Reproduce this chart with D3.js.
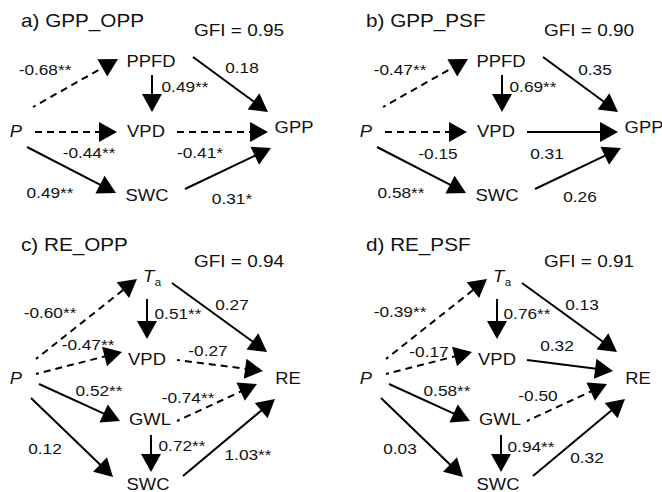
<!DOCTYPE html>
<html>
<head>
<meta charset="utf-8">
<script src="https://cdn.jsdelivr.net/npm/d3@7"></script>
<style>
  body { margin: 0; background: #fff; }
  text { font-family: Arial, "Liberation Sans", sans-serif; fill: #111; }
</style>
</head>
<body>
<svg id="chart" width="662" height="492"></svg>
<script>
// ---- data ----
var panelTitles = ["a) GPP_OPP", "b) GPP_PSF", "c) RE_OPP", "d) RE_PSF"];
var gfiValues = [0.95, 0.90, 0.94, 0.91];

// GPP models: paths and standardized coefficients
var gppPaths = [["P", "PPFD"], ["PPFD", "VPD"], ["PPFD", "GPP"], ["P", "VPD"], ["VPD", "GPP"], ["P", "SWC"], ["SWC", "GPP"]];
var gppOppCoef = [-0.68, 0.49, 0.18, -0.44, -0.41, 0.49, 0.31];
var gppOppSig  = ["**", "**", "", "**", "*", "**", "*"];
var gppPsfCoef = [-0.47, 0.69, 0.35, -0.15, 0.31, 0.58, 0.26];
var gppPsfSig  = ["**", "**", "", "", "", "**", ""];

// RE models
var rePaths = [["P", "Ta"], ["Ta", "VPD"], ["Ta", "RE"], ["P", "VPD"], ["VPD", "RE"], ["P", "GWL"], ["GWL", "RE"], ["GWL", "SWC"], ["P", "SWC"], ["SWC", "RE"]];
var reOppCoef = [-0.60, 0.51, 0.27, -0.47, -0.27, 0.52, -0.74, 0.72, 0.12, 1.03];
var reOppSig  = ["**", "**", "", "**", "", "**", "**", "**", "", "**"];
var rePsfCoef = [-0.39, 0.76, 0.13, -0.17, 0.32, 0.58, -0.50, 0.94, 0.03, 0.32];
var rePsfSig  = ["**", "**", "", "", "", "**", "", "**", "", ""];

// ---- layout (panel-relative units) ----
var sx = 1.15;   // text is a bit wide in the original
var gppNodes = {P: [16, 131], PPFD: [151, 61], VPD: [146, 131], GPP: [294, 127], SWC: [147, 195]};
var gppEdges = [[33, 107, 118, 59], [152, 75, 152, 112], [193, 57, 268, 112], [35, 132, 117, 132],
                [177, 132, 268, 132], [27, 147, 116, 193], [185, 189, 271, 148]];
var gppLabelPos = [
  [[45, 70], [185, 87], [242, 68], [89, 153], [200, 153], [50, 193], [232, 199]],
  [[50, 70], [183, 87], [245, 70], [88, 154], [197, 154], [51, 193], [230, 197]]
];
var reNodes = {P: [16, 132], Ta: [152, 30], VPD: [147, 113], RE: [288, 132], GWL: [150, 173], SWC: [148, 238]};
var reEdges = [[36, 113, 137, 33], [147, 53, 147, 93], [172, 37, 267, 106], [36, 128, 122, 106],
               [177, 114, 263, 125], [39, 138, 120, 175], [177, 175, 257, 138], [151, 189, 151, 226],
               [31, 152, 113, 231], [183, 230, 275, 153]];
var reLabelPos = [
  [[50, 67], [178, 68], [232, 59], [88, 99], [208, 105], [99, 145], [188, 152], [182, 200], [45, 203], [248, 209]],
  [[50, 66], [177, 68], [232, 59], [79, 106], [207, 100], [97, 145], [188, 150], [181, 201], [50, 203], [237, 212]]
];

var panels = [
  {ox: 0,   oy: 0,   title: [21, 21], gfi: [239, 30], nodes: gppNodes, edges: gppEdges, labels: gppLabelPos[0], coef: gppOppCoef, sig: gppOppSig},
  {ox: 350, oy: 0,   title: [16, 21], gfi: [239, 30], nodes: gppNodes, edges: gppEdges, labels: gppLabelPos[1], coef: gppPsfCoef, sig: gppPsfSig},
  {ox: 0,   oy: 246, title: [21, -1], gfi: [239, 15], nodes: reNodes,  edges: reEdges,  labels: reLabelPos[0],  coef: reOppCoef,  sig: reOppSig},
  {ox: 350, oy: 246, title: [16, -1], gfi: [239, 15], nodes: reNodes,  edges: reEdges,  labels: reLabelPos[1],  coef: rePsfCoef,  sig: rePsfSig}
];

var svg = d3.select("#chart");
var arrowLen = 18, arrowHalf = 10;

function stretched(sel, x, y) {
  return sel.attr("transform", "translate(" + x + "," + y + ") scale(" + sx + ",1)");
}

panels.forEach(function(p, i) {
  var x = d3.scaleLinear().domain([0, 331]).range([p.ox, p.ox + 331]);
  var y = d3.scaleLinear().domain([0, 246]).range([p.oy, p.oy + 246]);
  var g = svg.append("g");

  // edges
  p.edges.forEach(function(e, k) {
    var x1 = x(e[0]), y1 = y(e[1]), x2 = x(e[2]), y2 = y(e[3]);
    var dx = x2 - x1, dy = y2 - y1, len = Math.sqrt(dx * dx + dy * dy);
    var ux = dx / len, uy = dy / len;
    var bx = x2 - ux * arrowLen, by = y2 - uy * arrowLen;
    var neg = p.coef[k] < 0;
    g.append("line")
      .attr("x1", x1).attr("y1", y1)
      .attr("x2", bx + ux * 1).attr("y2", by + uy * 1)
      .attr("stroke", "#000")
      .attr("stroke-width", 2)
      .attr("stroke-dasharray", neg ? "7,5" : null)
      .attr("stroke-dashoffset", neg && e[1] !== e[3] ? 4 : 0);
    var pts = [[x2, y2], [bx - uy * arrowHalf, by + ux * arrowHalf], [bx + uy * arrowHalf, by - ux * arrowHalf]];
    g.append("path")
      .attr("d", d3.line()(pts) + "Z")
      .attr("fill", "#000");
  });

  // title and GFI
  stretched(g.append("text"), x(p.title[0]), y(p.title[1]))
    .attr("dy", "0.35em").attr("font-size", 18).text(panelTitles[i]);
  stretched(g.append("text"), x(p.gfi[0]), y(p.gfi[1]))
    .attr("dy", "0.35em").attr("font-size", 16.5).attr("text-anchor", "middle")
    .text("GFI = " + gfiValues[i].toFixed(2));

  // nodes
  Object.keys(p.nodes).forEach(function(name) {
    var c = p.nodes[name];
    var t = stretched(g.append("text"), x(c[0]), y(c[1]))
      .attr("dy", "0.35em").attr("font-size", 16).attr("text-anchor", "middle");
    if (name === "P") {
      t.attr("font-style", "italic").text("P");
    } else if (name === "Ta") {
      t.append("tspan").attr("font-style", "italic").text("T");
      t.append("tspan").attr("font-size", 10).attr("dy", "0.45em").attr("dx", "0.5").text("a");
    } else {
      t.text(name);
    }
  });

  // coefficient labels
  p.labels.forEach(function(c, k) {
    stretched(g.append("text"), x(c[0]), y(c[1]))
      .attr("dy", "0.35em").attr("font-size", 15).attr("text-anchor", "middle")
      .text(p.coef[k].toFixed(2) + p.sig[k]);
  });
});
</script>
</body>
</html>
